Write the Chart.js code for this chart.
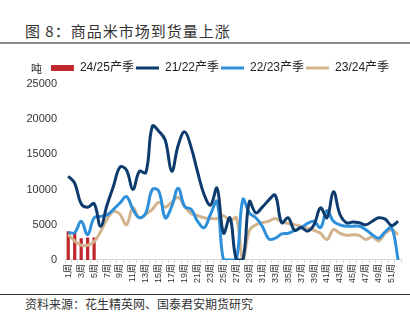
<!DOCTYPE html>
<html>
<head>
<meta charset="utf-8">
<script src="https://cdn.jsdelivr.net/npm/chart.js@4.4.1/dist/chart.umd.min.js"></script>
<style>
  body { margin: 0; width: 410px; height: 323px; background: #fff; position: relative; overflow: hidden; font-family: "Noto Sans CJK SC", sans-serif; }
  #title { position: absolute; left: 25px; top: 21px; font-size: 15px; line-height: 20px; color: #333; letter-spacing: 1px; }
  #topRule { position: absolute; left: 0; top: 42px; width: 410px; height: 2px; background: #8c8c8c; }
  #botRule { position: absolute; left: 0; top: 294px; width: 410px; height: 1px; background: #333; }
  #source { position: absolute; left: 25px; top: 296px; font-size: 12px; line-height: 16px; color: #333; }
  #unit { position: absolute; left: 31px; top: 60px; font-size: 11px; line-height: 16px; color: #222; }
  #wrap { position: absolute; left: 0; top: 50px; width: 410px; height: 240px; }
</style>
</head>
<body>
<div id="title">图 8：商品米市场到货量上涨</div>
<div id="topRule"></div>
<div id="wrap"><canvas id="riceChart"></canvas></div>
<div id="unit">吨</div>
<div id="botRule"></div>
<div id="source">资料来源：花生精英网、国泰君安期货研究</div>

<script>
// week categories
const weeks = ['1周','2周','3周','4周','5周','6周','7周','8周','9周','10周',
    '11周','12周','13周','14周','15周','16周','17周','18周','19周','20周',
    '21周','22周','23周','24周','25周','26周','27周','28周','29周','30周',
    '31周','32周','33周','34周','35周','36周','37周','38周','39周','40周',
    '41周','42周','43周','44周','45周','46周','47周','48周','49周','50周',
    '51周','52周'];

// 24/25 season (bars, only first weeks so far)
const s2425 = [4100, 3900, 3100, 3200, 3200];

// 21/22 season
const s2122 = [11900, 10900, 8000, 7500, 8000, 4800, 7800, 10500, 13200, 12800,
    10000, 12600, 12400, 19000, 18300, 17000, 12600, 16300, 18200, 16000,
    12500, 9300, 7800, 10200, 3800, 6000, 0, 0, 8300, 6700,
    7500, 8500, 9200, 5300, 6000, 4200, 4600, 4100, 5000, 7400,
    6000, 9700, 6500, 5300, 5400, 5300, 5000, 5500, 6000, 5800,
    4900, 5500];

// 22/23 season
const s2223 = [3900, 3900, 5500, 3600, 6000, 6200, 6400, 7200, 8100, 9000,
    7200, 6000, 6700, 10000, 9800, 6000, 7600, 10200, 7600, 7200,
    5500, 4600, 6500, 8300, 0, 0, 0, 8600, 6700, 6000,
    4800, 3000, 3100, 3700, 3800, 4200, 4600, 5200, 5500, 4600,
    7000, 5500, 5000, 4800, 4800, 4800, 4300, 3600, 3100, 4000,
    4600, 0];

// 23/24 season
const s2324 = [3600, 2700, 2100, 2100, 2600, 4000, 5800, 6900, 6500, 5000,
    7400, 6000, 6500, 7200, 8200, 7500, 8200, 8900, 7600, 6600,
    6300, 6000, 5900, 5900, 6300, 5600, 6000, 0, 4200, 5000,
    5300, 5500, 5900, 5400, 5200, 5000, 4800, 4500, 4200, 3800,
    2900, 4300, 3800, 3500, 3600, 3500, 2900, 3300, 2700, 3800,
    4300, 3600];

const lineStyle = { type: 'line', pointRadius: 0, pointStyle: 'line', borderWidth: 3, tension: 0.4, fill: false };

// nudge the legend row a little to the right, like the original
const legendShift = {
    id: 'legendShift',
    afterLayout(chart) {
        chart.legend.left += 7;
        chart.legend.right += 7;
    }
};

const ctx = document.getElementById('riceChart').getContext('2d');
const riceChart = new Chart(ctx, {
    data: {
        labels: weeks,
        datasets: [
            { type: 'bar', label: '24/25产季', data: s2425, backgroundColor: '#C0272D',
              pointStyle: 'rect', borderWidth: 0, barPercentage: 0.5, categoryPercentage: 1, order: 10 },
            Object.assign({ label: '21/22产季', data: s2122, borderColor: '#0D3B6E', backgroundColor: '#0D3B6E' }, lineStyle),
            Object.assign({ label: '22/23产季', data: s2223, borderColor: '#2E90DA', backgroundColor: '#2E90DA' }, lineStyle),
            Object.assign({ label: '23/24产季', data: s2324, borderColor: '#D2B48E', backgroundColor: '#D2B48E' }, lineStyle)
        ]
    },
    plugins: [legendShift],
    options: {
        responsive: true,
        maintainAspectRatio: false,
        animation: false,
        layout: { padding: { left: 24, right: 8, top: 10, bottom: 6 } },
        plugins: {
            tooltip: { enabled: false },
            legend: {
                position: 'top',
                labels: {
                    usePointStyle: true,
                    pointStyleWidth: 23,
                    boxHeight: 6,
                    padding: 2,
                    color: '#222',
                    font: { family: '"Liberation Sans", "Noto Sans CJK SC"', size: 12 },
                    sort: function (a, b) { return a.datasetIndex - b.datasetIndex; }
                }
            }
        },
        scales: {
            x: {
                offset: true,
                grid: { display: true, drawOnChartArea: false, drawTicks: true, tickLength: 3, color: '#d9d9d9' },
                border: { color: '#d9d9d9' },
                ticks: {
                    autoSkip: false,
                    minRotation: 90,
                    maxRotation: 90,
                    padding: 1,
                    color: '#333',
                    font: { family: '"Liberation Sans", "Noto Sans CJK SC"', size: 9 },
                    callback: function (v, i) { return i % 2 === 0 ? weeks[i] : ''; }
                }
            },
            y: {
                min: 0,
                max: 25000,
                grid: { display: false, drawTicks: false, tickLength: 0 },
                border: { display: false },
                afterFit: function (scale) { scale.width = 41; },
                ticks: {
                    stepSize: 5000,
                    padding: 8,
                    color: '#333',
                    font: { family: '"Liberation Sans"', size: 11 },
                    callback: function (v) { return String(v); }
                }
            }
        }
    }
});
</script>
</body>
</html>
